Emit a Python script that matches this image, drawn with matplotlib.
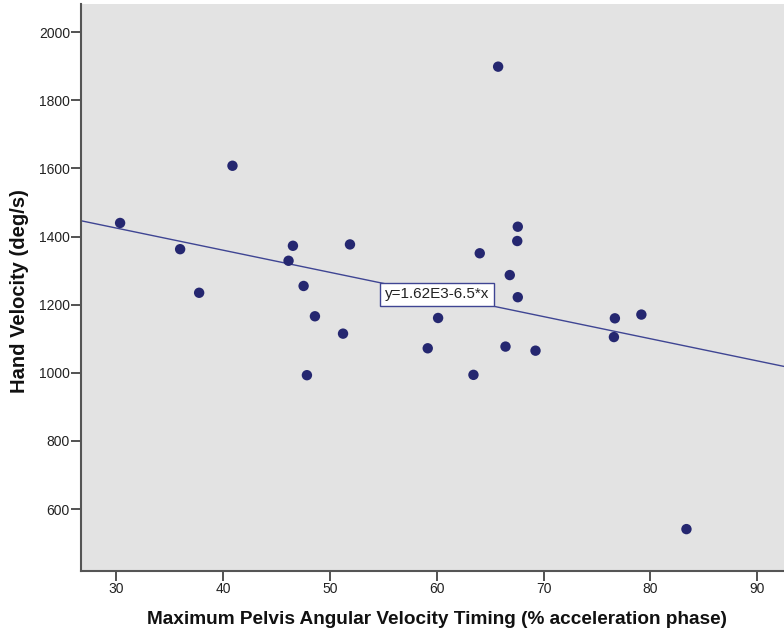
import matplotlib
matplotlib.use("Agg")
import matplotlib.pyplot as plt
import numpy as np

plt.rcParams['font.family'] = ['Liberation Sans', 'DejaVu Sans']

timing = [30.35, 35.97, 37.75, 40.87, 46.12, 46.53, 47.53, 47.84, 48.59, 51.22, 51.87,
          59.15, 60.12, 63.43, 64.02, 65.74, 66.43, 66.83, 67.53, 67.58, 67.58, 69.24,
          76.58, 76.67, 79.15, 83.37]
hand_vel = [1440, 1363, 1235, 1608, 1329, 1373, 1255, 993, 1166, 1115, 1377,
            1072, 1161, 994, 1351, 1899, 1077, 1287, 1387, 1429, 1222, 1065,
            1105, 1160, 1171, 541]
fit_intercept = 1620.0
fit_slope = -6.5
fit_label = "y=1.62E3-6.5*x"
x_ticks = [30, 40, 50, 60, 70, 80, 90]
y_ticks = [600, 800, 1000, 1200, 1400, 1600, 1800, 2000]

W, H = 784, 636
fig = plt.figure(figsize=(W/100, H/100), dpi=100)
ax_w = 800 - 81
ax_h = 571 - 4
ax = fig.add_axes([81/W, 65/H, ax_w/W, ax_h/H])
ax.set_facecolor('#E3E3E3')
xmin, xmax = 26.69, 94.0
ax.set_xlim(xmin, xmax)
ax.set_ylim(418, 2083)

xs = np.array([xmin, xmax])
ax.plot(xs, fit_intercept + fit_slope*xs, color='#3F4593', lw=1.0, zorder=2)
ax.scatter(timing, hand_vel, s=56, color='#252770', edgecolors='none', zorder=3)

ax.text(60.0, 1231, fit_label, ha='center', va='center', fontsize=11, color='#222222',
        bbox=dict(boxstyle='square,pad=0.3', facecolor='white', edgecolor='#3F4593', lw=1.0),
        zorder=4)

ax.set_xticks(x_ticks)
ax.set_yticks(y_ticks)
ax.tick_params(axis='both', direction='out', length=7, width=1.3, color='#444444',
               labelsize=10, labelcolor='#222222', pad=1)
for s in ['top', 'right']:
    ax.spines[s].set_visible(False)
for s in ['left', 'bottom']:
    ax.spines[s].set_color('#555555')
    ax.spines[s].set_linewidth(1.5)

ax.set_xlabel('Maximum Pelvis Angular Velocity Timing (% acceleration phase)',
              fontsize=13.7, fontweight='bold', color='#111111')
ax.set_ylabel('Hand Velocity (deg/s)', fontsize=14.5, fontweight='bold', color='#111111')
ax.xaxis.set_label_coords((437-81)/ax_w, -(611-571)/ax_h)
ax.yaxis.set_label_coords((29-81)/ax_w, (571-291)/ax_h)

fig.savefig('out.png', dpi=100, facecolor='white')
